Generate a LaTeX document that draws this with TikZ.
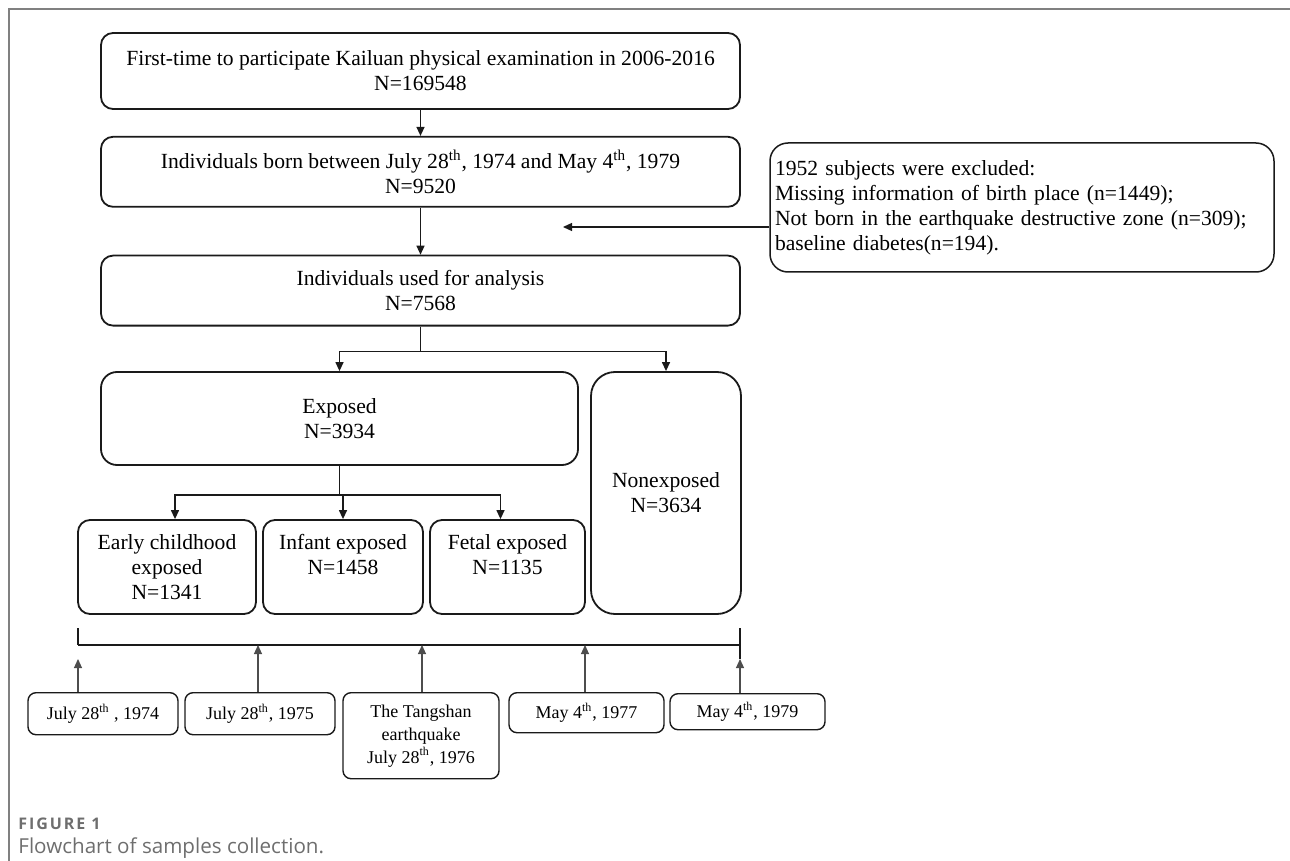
\documentclass[tikz,border=0pt]{standalone}
\usepackage{fontspec}
\setmainfont{Liberation Serif}
\newfontfamily\capfont{Open Sans}
\usetikzlibrary{positioning, arrows.meta, calc}
\definecolor{frameline}{HTML}{808080}
\definecolor{boxline}{HTML}{1A1A1A}
\definecolor{dateline}{HTML}{4D4D4D}
\definecolor{captext}{HTML}{6E6E6E}

\begin{document}
\begin{tikzpicture}[x=0.5pt, y=-0.5pt,
        every node/.style={font=\fontsize{10.8}{12.5}\selectfont},
        box/.style={rectangle, rounded corners=6pt, draw=boxline,
          line width=0.9pt, align=center, inner sep=0pt},
        mainbox/.style={box, minimum width=319.5pt, minimum height=35pt},
        subbox/.style={box, minimum height=47pt},
        datebox/.style={box, rounded corners=4pt, line width=0.7pt,
          anchor=north, font=\fontsize{9}{11.5}\selectfont},
        arr/.style={-{Triangle[length=4.5pt, width=4pt]}, line width=0.65pt,
          draw=boxline},
        datearr/.style={arr, draw=dateline, line width=0.55pt},
        tline/.style={line width=0.75pt, draw=boxline}]

      \useasboundingbox (0,0) rectangle (1290,861);
      \draw[frameline, line width=1pt] (9,861) -- (9,9) -- (1290,9);

      % main column
      \node[mainbox, minimum height=38pt] (first) at (420.5,71)
        {First-time to participate Kailuan physical examination in 2006-2016\\N=169548};
      \node[mainbox, below=13pt of first] (born)
        {Individuals born between July 28\textsuperscript{th}, 1974 and May 4\textsuperscript{th}, 1979\\N=9520};
      \node[mainbox, below=23.5pt of born] (analysis)
        {Individuals used for analysis\\N=7568};

      \node[box, rounded corners=9pt, line width=0.75pt, minimum height=64.5pt,
        text width=247pt, inner xsep=2.5pt, align=left] (excl) at (1022,207.5)
        {1952 subjects were excluded:\\
         Missing information of birth place (n=1449);\\
         Not born in the earthquake destructive zone (n=309);\\
         baseline diabetes(n=194).};
      \coordinate (exclend) at (563,227);

      \draw[arr] (first) -- (born);
      \draw[arr] (born) -- (analysis);
      \draw[arr] (excl.west |- exclend) -- (exclend);

      % exposure groups
      \node[box, rounded corners=8pt, minimum width=238.5pt, minimum height=46.5pt]
        (exposed) at (339.5,418.5) {Exposed\\N=3934};
      \node[box, rounded corners=12pt, minimum width=75pt, minimum height=121pt]
        (nonexp) at (666,493) {Nonexposed\\N=3634};

      \coordinate (split1) at ($(analysis.south)+(0,25)$);
      \draw[tline] (analysis.south) -- (split1);
      \draw[arr] (split1) -| (exposed);
      \draw[arr] (split1) -| (nonexp);

      \node[subbox, minimum width=89pt] (early) at (167,567)
        {Early childhood\\exposed\\N=1341};
      \node[subbox, minimum width=80pt] (infant) at (343,567)
        {Infant exposed\\N=1458\\\phantom{N}};
      \node[subbox, minimum width=77.5pt] (fetal) at (507.5,567)
        {Fetal exposed\\N=1135\\\phantom{N}};

      \coordinate (split2) at ($(exposed.south)+(0,29)$);
      \draw[tline] (exposed.south) -- (split2);
      \draw[arr] (split2) -| ($(early.north)+(8,0)$);
      \draw[arr] (split2) -| (infant);
      \draw[arr] (split2) -| ($(fetal.north)+(-7,0)$);

      % time line
      \coordinate (t0) at (78,645);
      \coordinate (t1) at (258,645);
      \coordinate (t2) at (422,645);
      \coordinate (t3) at (585,645);
      \coordinate (t4) at (740,645);
      \coordinate (tk0) at (78,628);
      \coordinate (tk4) at (740,628);
      \coordinate (e0) at (78,659);
      \coordinate (e4) at (740,659);
      \draw[tline] (t0) -- (t4);
      \draw[tline] (tk0) -- (t0);
      \draw[tline] (tk4) -- (e4);

      \node[datebox, minimum width=75pt, minimum height=21pt] (d1) at (103,692)
        {July 28\textsuperscript{th} , 1974};
      \node[datebox, minimum width=75pt, minimum height=21pt] (d2) at (260,692)
        {July 28\textsuperscript{th}, 1975};
      \node[datebox, minimum width=78pt, minimum height=43pt] (d3) at (421,692)
        {The Tangshan\\earthquake\\July 28\textsuperscript{th}, 1976};
      \node[datebox, minimum width=77.5pt, minimum height=20pt] (d4) at (586.5,692)
        {May 4\textsuperscript{th}, 1977};
      \node[datebox, minimum width=77.5pt, minimum height=18pt] (d5) at (747.5,693)
        {May 4\textsuperscript{th}, 1979};

      \draw[datearr] (d1.north -| e0) -- (e0);
      \draw[datearr] (d2.north -| t1) -- (t1);
      \draw[datearr] (d3.north -| t2) -- (t2);
      \draw[datearr] (d4.north -| t3) -- (t3);
      \draw[datearr] (d5.north -| e4) -- (e4);

      % caption
      \node[anchor=west, inner sep=0pt, text=captext,
        font=\capfont\bfseries\fontsize{8}{10}\selectfont\addfontfeatures{LetterSpace=12}]
        (figno) at (18,824) {FIGURE 1};
      \node[anchor=west, inner sep=0pt, text=captext,
        font=\capfont\fontsize{10.3}{13}\selectfont] (caption) at (18,848)
        {Flowchart of samples collection.};
    \end{tikzpicture}
\end{document}
